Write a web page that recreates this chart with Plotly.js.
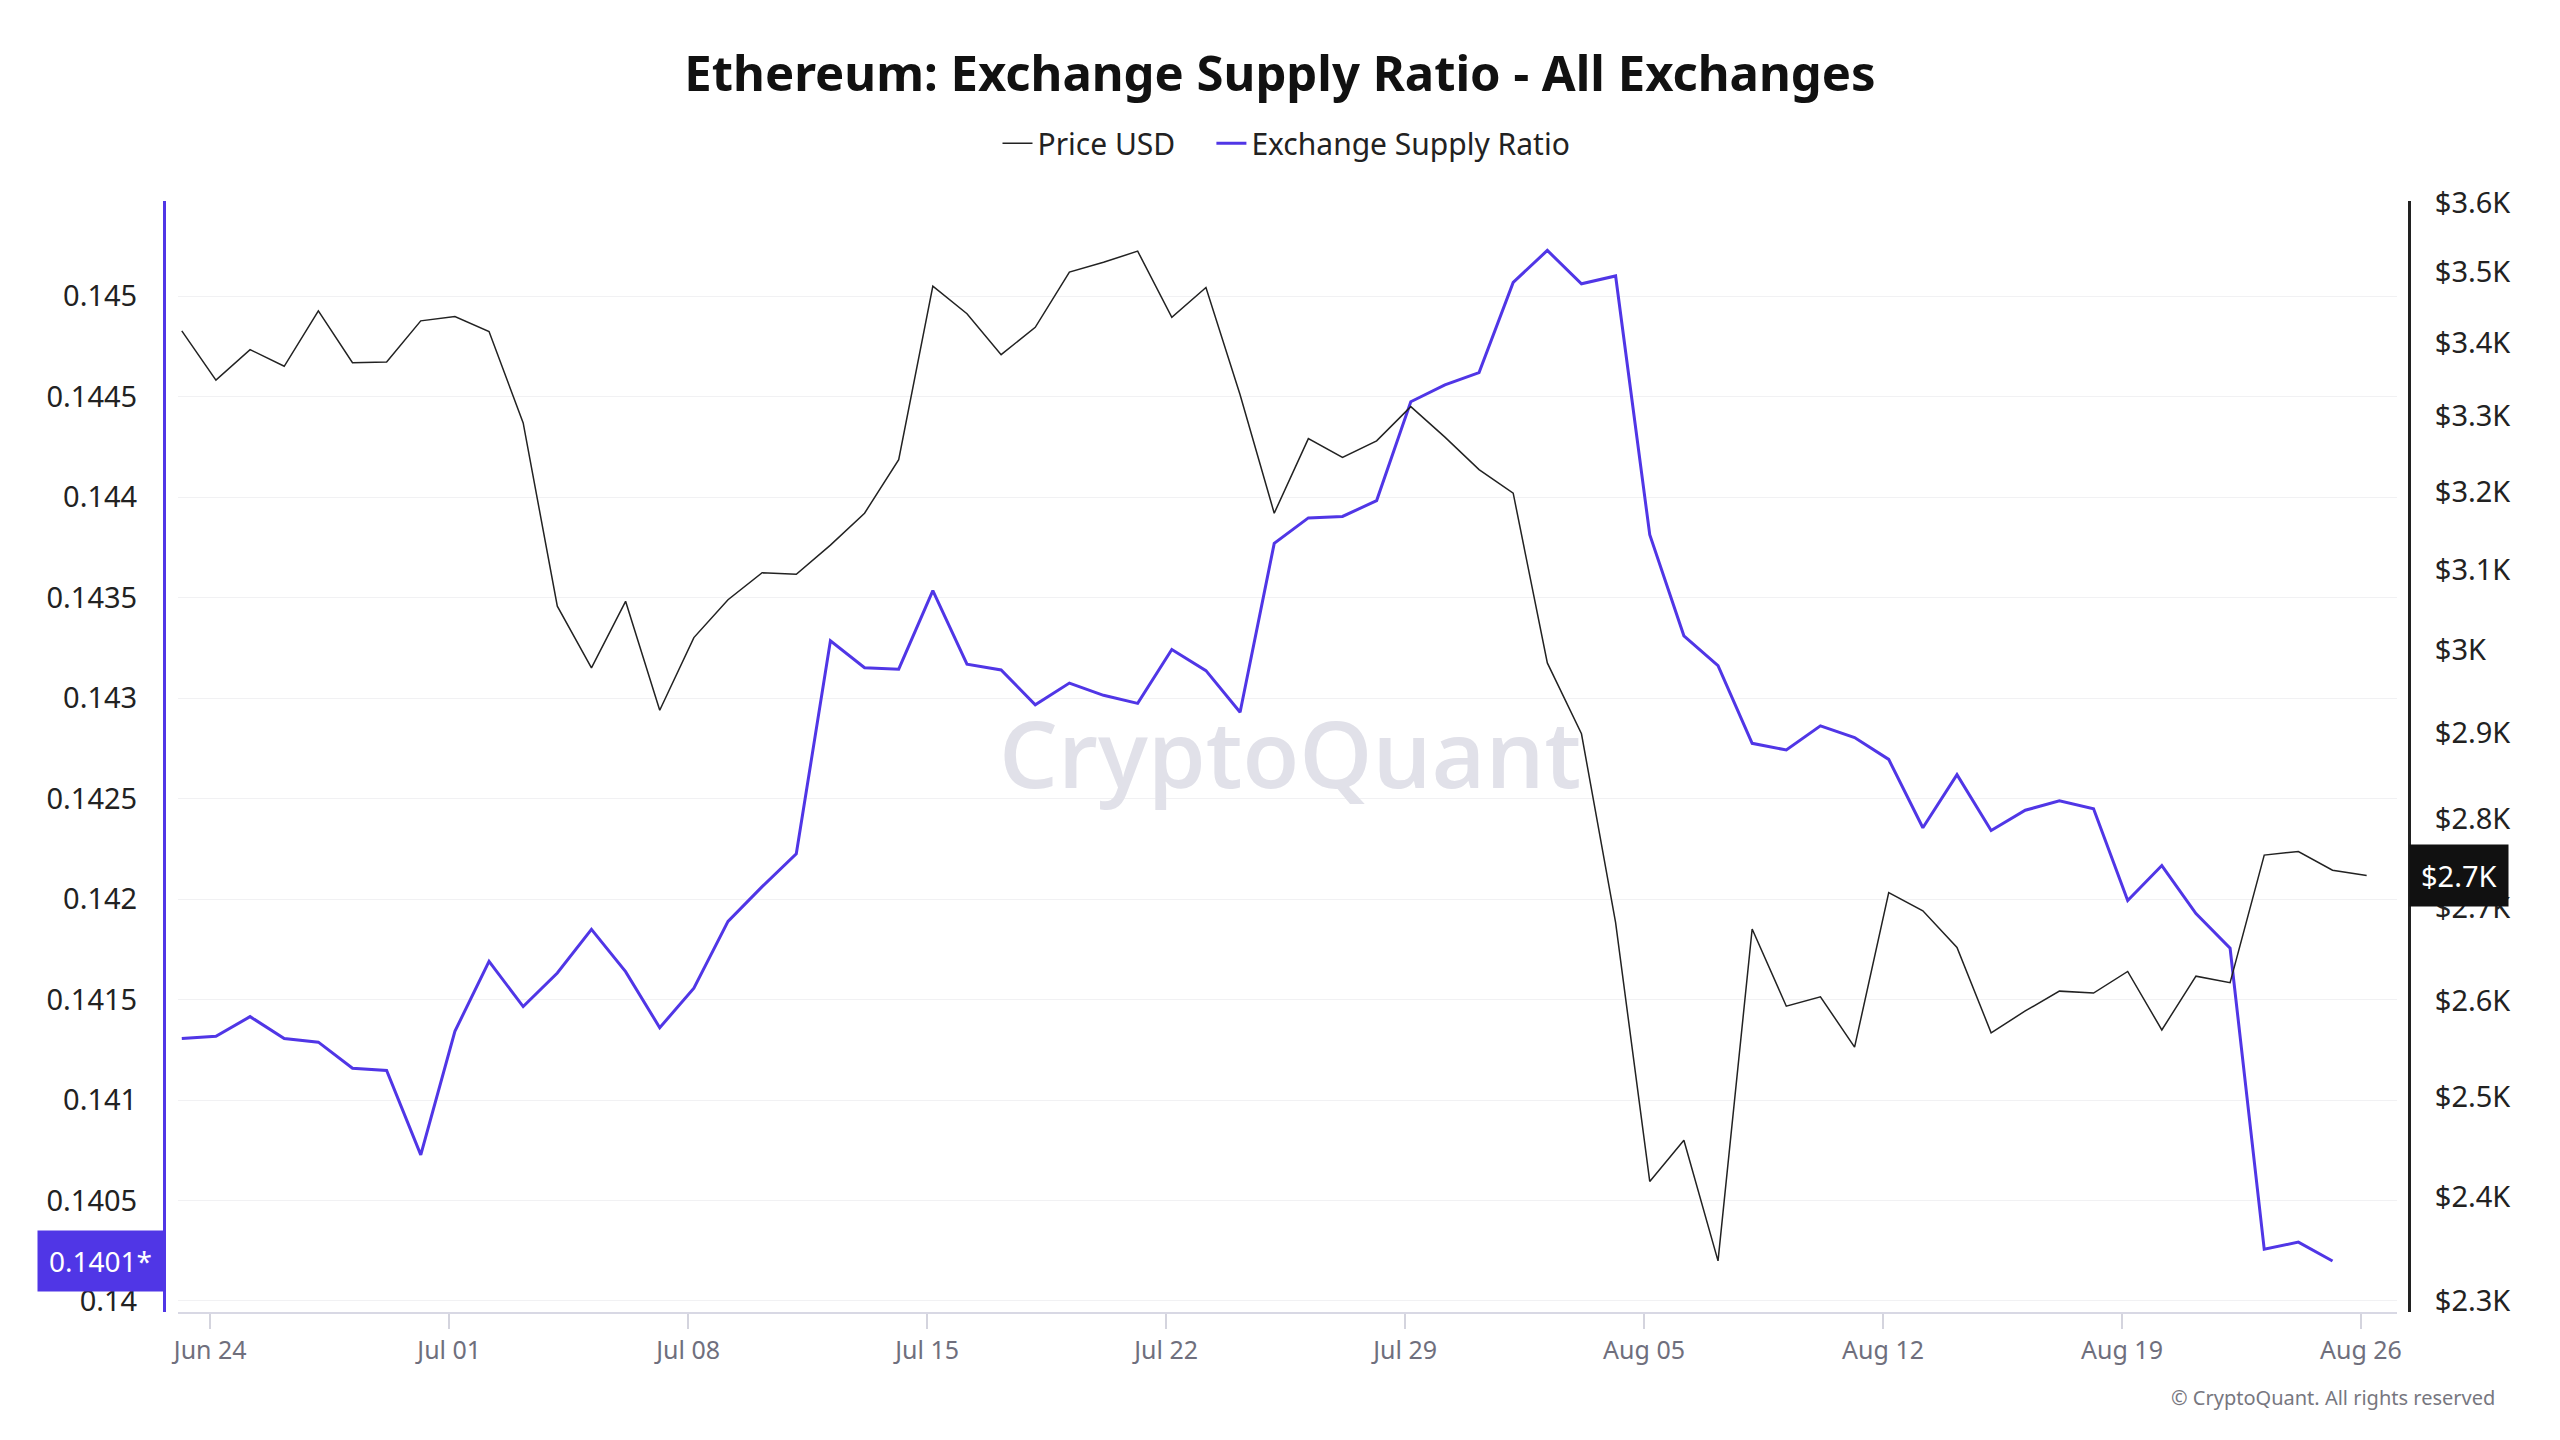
<!DOCTYPE html>
<html>
<head>
<meta charset="utf-8">
<script src="https://cdn.plot.ly/plotly-3.0.1.min.js"></script>
<style>
  html, body { margin: 0; padding: 0; background: #ffffff; }
  #chart { width: 2560px; height: 1440px; }
</style>
</head>
<body>
<div id="chart"></div>
<script>
// Daily values, Jun 23 2024 onwards
const startDate = '2024-06-23';

const priceUsd = [
    3417, 3349, 3391, 3368, 3445, 3373, 3374, 3431,
    3437, 3416, 3291, 3054, 2978, 3060, 2927, 3015, 3062, 3096,
    3094, 3131, 3172, 3242, 3480, 3441, 3384, 3422, 3500, 3514,
    3530, 3436, 3478, 3329, 3172, 3270, 3245, 3267, 3313, 3272, 3229,
    3198, 2984, 2899, 2684, 2415, 2456, 2338, 2677, 2594, 2604,
    2551, 2717, 2697, 2657, 2566, 2589, 2610, 2608, 2631, 2569,
    2626, 2619, 2759, 2763, 2742, 2736
];

const supplyRatio = [
    0.141306, 0.141317, 0.141415, 0.141306, 0.141288, 0.141158, 0.141147, 0.140727,
    0.141342, 0.141690, 0.141465, 0.141632, 0.141849, 0.141639, 0.141360, 0.141556,
    0.141889, 0.142062, 0.142225, 0.143285, 0.143151, 0.143144, 0.143535, 0.143169,
    0.143140, 0.142967, 0.143075, 0.143014, 0.142974, 0.143242, 0.143137, 0.142930,
    0.143770, 0.143897, 0.143904, 0.143983, 0.144475, 0.144559, 0.144620,
    0.145069, 0.145228, 0.145062, 0.145101, 0.143813, 0.143310, 0.143162, 0.142775,
    0.142742, 0.142862, 0.142804, 0.142695, 0.142355, 0.142619, 0.142341, 0.142442,
    0.142489, 0.142449, 0.141993, 0.142167, 0.141928, 0.141755, 0.140257, 0.140293,
    0.140199
];

const priceTickVals = [2300, 2400, 2500, 2600, 2700, 2800, 2900, 3000, 3100, 3200, 3300, 3400, 3500, 3600];
const priceTickText = ['$2.3K', '$2.4K', '$2.5K', '$2.6K', '$2.7K', '$2.8K', '$2.9K', '$3K',
                       '$3.1K', '$3.2K', '$3.3K', '$3.4K', '$3.5K', '$3.6K'];

const ratioBadge = '0.1401*';
const priceBadge = '$2.7K';

const PURPLE = '#5036e6';
const DARK = '#222222';

// Build daily date strings (points sit a few hours after midnight in the source)
function dailyDates(start, count) {
    const out = [];
    const d = new Date(start + 'T04:00:00Z');
    for (let i = 0; i < count; i++) {
        out.push(d.toISOString().slice(0, 16).replace('T', ' '));
        d.setUTCDate(d.getUTCDate() + 1);
    }
    return out;
}

const priceDates = dailyDates(startDate, priceUsd.length);
const ratioDates = dailyDates(startDate, supplyRatio.length);

const traces = [
    {
        x: priceDates,
        y: priceUsd,
        name: 'Price USD\u00a0\u00a0\u00a0\u00a0',
        type: 'scatter',
        mode: 'lines',
        yaxis: 'y2',
        line: { color: DARK, width: 1.5 }
    },
    {
        x: ratioDates,
        y: supplyRatio,
        name: 'Exchange Supply Ratio',
        type: 'scatter',
        mode: 'lines',
        yaxis: 'y',
        line: { color: PURPLE, width: 3 }
    }
];

const layout = {
    width: 2560,
    height: 1440,
    paper_bgcolor: '#ffffff',
    plot_bgcolor: '#ffffff',
    margin: { l: 164, r: 151, t: 201, b: 128 },
    font: { family: 'Noto Sans, Open Sans, sans-serif', color: DARK, size: 29 },
    showlegend: true,
    title: {
        text: '<b>Ethereum: Exchange Supply Ratio - All Exchanges</b>',
        font: { size: 49, color: '#111111' },
        x: 0.5,
        xanchor: 'center',
        xref: 'container',
        y: 1 - 74 / 1440,
        yanchor: 'middle',
        yref: 'container'
    },
    legend: {
        orientation: 'h',
        x: 0.5,
        xanchor: 'center',
        y: 1.052,
        yanchor: 'middle',
        font: { size: 30, color: DARK },
        itemwidth: 30,
        traceorder: 'normal'
    },
    xaxis: {
        type: 'date',
        domain: [14 / 2245, 2233 / 2245],
        range: ['2024-06-23 01:20', '2024-08-27 01:20'],
        tick0: '2024-06-24',
        dtick: 7 * 24 * 3600 * 1000,
        tickformat: '%b %d',
        ticks: 'outside',
        ticklen: 15,
        tickwidth: 1.5,
        tickcolor: '#d4d4de',
        showline: true,
        linecolor: '#d8d8e4',
        linewidth: 2,
        showgrid: false,
        zeroline: false,
        tickfont: { size: 25, color: '#6f6f7d' }
    },
    yaxis: {
        range: [0.139945, 0.145474],
        dtick: 0.0005,
        tick0: 0.14,
        anchor: 'free',
        position: 0,
        side: 'left',
        showline: true,
        linecolor: PURPLE,
        linewidth: 3,
        showgrid: true,
        gridcolor: '#f1f1f3',
        gridwidth: 1,
        zeroline: false,
        ticks: '',
        ticklabelstandoff: 20,
        tickfont: { size: 29, color: DARK }
    },
    yaxis2: {
        type: 'log',
        range: [3.35978, 3.55666],
        overlaying: 'y',
        side: 'right',
        anchor: 'free',
        position: 1,
        tickvals: priceTickVals,
        ticktext: priceTickText,
        showline: true,
        linecolor: DARK,
        linewidth: 3,
        showgrid: false,
        zeroline: false,
        ticks: '',
        ticklabelstandoff: 18,
        tickfont: { size: 29, color: DARK }
    },
    annotations: [
        {
            // watermark
            text: 'CryptoQuant',
            xref: 'paper', yref: 'paper',
            x: (1290 - 164) / 2245, y: (1312 - 752) / 1111,
            xanchor: 'center', yanchor: 'middle',
            showarrow: false,
            font: { family: 'Open Sans, sans-serif', size: 93, color: '#e1e1e9', weight: 600 }
        },
        {
            text: ratioBadge,
            xref: 'paper', yref: 'y',
            x: 0, y: supplyRatio[supplyRatio.length - 1],
            xanchor: 'right', yanchor: 'middle',
            showarrow: false,
            bgcolor: PURPLE,
            borderpad: 11,
            font: { size: 28, color: '#ffffff' }
        },
        {
            text: priceBadge,
            xref: 'paper', yref: 'y2',
            x: 1, y: Math.log10(priceUsd[priceUsd.length - 1]),
            xanchor: 'left', yanchor: 'middle',
            showarrow: false,
            bgcolor: '#111111',
            borderpad: 11,
            font: { size: 29, color: '#ffffff' }
        },
        {
            text: '© CryptoQuant. All rights reserved',
            xref: 'paper', yref: 'paper',
            x: (2497 - 164) / 2245, y: (1312 - 1397) / 1111,
            xanchor: 'right', yanchor: 'middle',
            showarrow: false,
            font: { size: 20, color: '#77777f' }
        }
    ]
};

Plotly.newPlot('chart', traces, layout, { staticPlot: true, displayModeBar: false });
</script>
</body>
</html>
